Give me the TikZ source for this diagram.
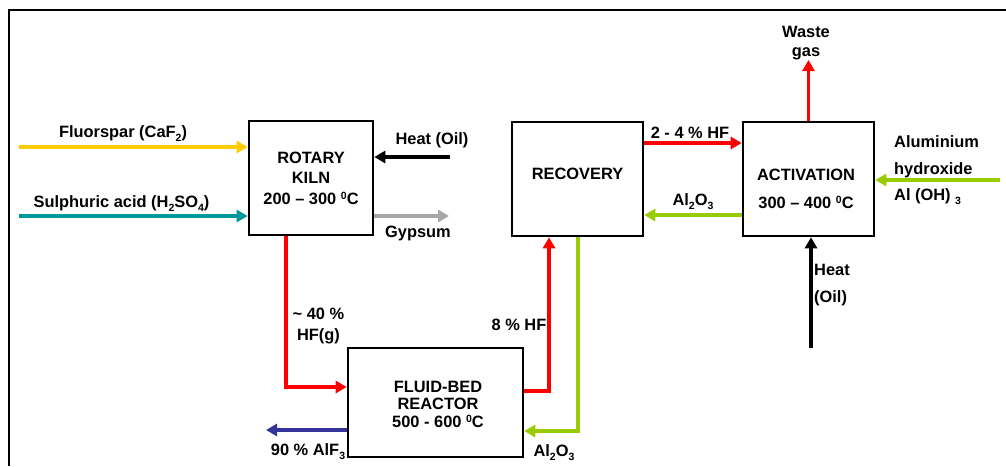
\documentclass[tikz,border=0pt]{standalone}
\usepackage{fontspec}
\setmainfont{Liberation Sans}
\usetikzlibrary{arrows.meta}
\definecolor{cyel}{HTML}{FFCC00}
\definecolor{cteal}{HTML}{009999}
\definecolor{cgray}{HTML}{A6A6A6}
\definecolor{cred}{HTML}{FF0000}
\definecolor{cgreen}{HTML}{99CC00}
\definecolor{cblue}{HTML}{333399}
\newcommand{\dg}{\raisebox{4.6pt}{\fontsize{10.5}{10.5}\selectfont 0}}
\newcommand{\sbs}[1]{\raisebox{-4pt}{\fontsize{10.5}{10.5}\selectfont #1}}
\begin{document}
\begin{tikzpicture}[x=1pt,y=-1pt,
  box/.style={draw,line width=2.6pt,inner sep=0},
  flow/.style={line width=3.2pt,-{Triangle[length=11pt,width=12pt]}},
  lbl/.style={font=\bfseries\fontsize{16.4}{20}\selectfont,inner sep=0,anchor=base},
]
\useasboundingbox (0,0) rectangle (1006,466);
% frame
\draw[line width=2.8pt] (1006,10) -- (9,10) -- (9,466);

% boxes
\node[box,minimum width=124pt,minimum height=114pt] (kiln) at (311,178) {};
\node[box,minimum width=131pt,minimum height=114pt] (rec) at (577.5,179) {};
\node[box,minimum width=131pt,minimum height=114pt] (act) at (808.5,179) {};
\node[box,minimum width=175pt,minimum height=109pt] (fluid) at (435.5,402.5) {};

% box texts (base anchor = baseline of last line)
\node[lbl,align=center,font=\bfseries\fontsize{16.4}{20.5}\selectfont] (kilntxt) at (311,204) {ROTARY\\KILN\\200 -- 300 \dg C};
\node[lbl] (rectxt) at (577.5,179) {RECOVERY};
\node[lbl,align=center,font=\bfseries\fontsize{16.4}{28}\selectfont] (acttxt) at (806,208) {ACTIVATION\\300 -- 400 \dg C};
\node[lbl,align=center,font=\bfseries\fontsize{16.4}{17.5}\selectfont] (fluidtxt) at (438,427) {FLUID-BED\\REACTOR\\500 - 600 \dg C};

% free ends
\coordinate (fs) at (19,147);
\coordinate (sa) at (19,216);
\coordinate (ho) at (450,157);
\coordinate (gy) at (449,216);
\coordinate (kd) at (286,387);
\coordinate (ao) at (266,430);
\coordinate (fr) at (549,391);
\coordinate (gr) at (578,431);
\coordinate (hf) at (693,143);
\coordinate (al) at (693,215);
\coordinate (wg) at (808.5,60);
\coordinate (ah) at (1000,180);
\coordinate (hb) at (811,348);

% connectors
\draw[flow,cyel] (fs) -- (fs -| kiln.west);
\draw[flow,cteal] (sa) -- (sa -| kiln.west);
\draw[flow,black] (ho) -- (ho -| kiln.east);
\draw[flow,cgray] (gy -| kiln.east) -- (gy);
\draw[flow,cred] (kd |- kiln.south) -- (kd) -- (kd -| fluid.west);
\draw[flow,cblue] (ao -| fluid.west) -- (ao);
\draw[flow,cred] (fr -| fluid.east) -- (fr) -- (fr |- rec.south);
\draw[flow,cgreen] (gr |- rec.south) -- (gr) -- (gr -| fluid.east);
\draw[flow,cred] (hf -| rec.east) -- (hf -| act.west);
\draw[flow,cgreen] (al -| act.west) -- (al -| rec.east);
\draw[flow,cred] (act.north) -- (wg);
\draw[flow,cgreen] (ah) -- (ah -| act.east);
\draw[flow,black] (hb) -- (hb |- act.south);

% labels
\node[lbl] (lfs) at (123,137) {Fluorspar (CaF\sbs{2})};
\node[lbl] (lsa) at (121.5,207) {Sulphuric acid (H\sbs{2}SO\sbs{4})};
\node[lbl] (lho) at (432,144) {Heat (Oil)};
\node[lbl] (lgy) at (418,237) {Gypsum};
\node[lbl,align=center,font=\bfseries\fontsize{16.4}{21}\selectfont] (lkd) at (318.5,340) {\textasciitilde\ 40 \%\\HF(g)};
\node[lbl] (lfr) at (519,330) {8 \% HF};
\node[lbl] (lao) at (308,455) {90 \% AlF\sbs{3}};
\node[lbl] (lgr) at (554,456) {Al\sbs{2}O\sbs{3}};
\node[lbl] (lhf) at (690,138) {2 - 4 \% HF};
\node[lbl] (lal) at (693,205) {Al\sbs{2}O\sbs{3}};
\node[lbl,align=center,font=\bfseries\fontsize{16.4}{18.5}\selectfont] (lwg) at (806,56) {Waste\\gas};
\node[lbl,anchor=base west,align=left,font=\bfseries\fontsize{16.4}{26.3}\selectfont] (lah) at (894,200.5) {Aluminium\\hydroxide\\Al (OH) \sbs{3}};
\node[lbl,anchor=base west,align=left,font=\bfseries\fontsize{16.4}{26.5}\selectfont] (lhb) at (814,302) {Heat\\(Oil)};
\end{tikzpicture}
\end{document}
